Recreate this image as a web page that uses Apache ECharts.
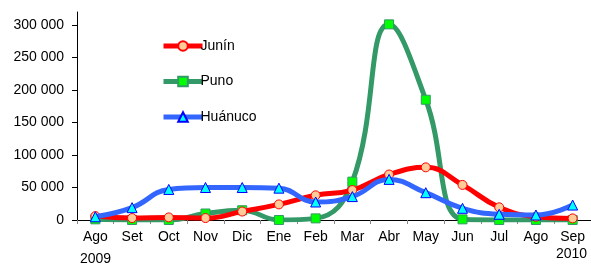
<!DOCTYPE html>
<html><head><meta charset="utf-8">
<script src="https://cdn.jsdelivr.net/npm/echarts@6/dist/echarts.min.js"></script>
<style>html,body{margin:0;padding:0;background:#fff}#c{width:591px;height:265px}</style>
</head><body><div id="c"></div>
<script>
const categories = ['Ago','Set','Oct','Nov','Dic','Ene','Feb','Mar','Abr','May','Jun','Jul','Ago','Sep'];
const junin = [6000, 3000, 4000, 3000, 13000, 24000, 38000, 46000, 70000, 81000, 54000, 19500, 5000, 2500];
const puno = [1000, 0, 0, 10000, 15000, 0, 2500, 59000, 301000, 185000, 1000, 0, 0, 0];
const huanuco = [5000, 19000, 47000, 50000, 50000, 49000, 27700, 36000, 62500, 42000, 18000, 8800, 7700, 23000];
const yTicks = [0, 50000, 100000, 150000, 200000, 250000, 300000];
const yearLabels = ['2009', '2010'];

const font = 'Liberation Sans, Arial, sans-serif';
const chart = echarts.init(document.getElementById('c'), null, {renderer: 'canvas'});
function fmt(v){ return String(v).replace(/\B(?=(\d{3})+(?!\d))/g, ' '); }
chart.setOption({
  animation: false,
  grid: {left: 77, right: -8, top: 12, bottom: 45, containLabel: false},
  legend: {
    orient: 'vertical', left: 156, top: 34, itemGap: 21.5,
    itemWidth: 39, itemHeight: 12,
    lineStyle: {width: 5},
    textStyle: {fontFamily: font, fontSize: 14, color: '#000', padding: [0,0,0,-7]},
    data: ['Junín', 'Puno', 'Huánuco']
  },
  xAxis: {
    type: 'category', data: categories, boundaryGap: true,
    axisLine: {lineStyle: {color: '#000', width: 1}},
    axisTick: {show: true, length: 4, lineStyle: {color: '#888'}},
    axisLabel: {color: '#000', fontFamily: font, fontSize: 14, margin: 10, interval: 0}
  },
  yAxis: {
    type: 'value', min: 0, max: 320000, interval: 50000,
    splitLine: {show: false},
    axisLine: {show: true, lineStyle: {color: '#000', width: 1}},
    axisTick: {show: true, length: 5, customValues: yTicks, lineStyle: {color: '#000'}},
    axisLabel: {color: '#000', fontFamily: font, fontSize: 14, margin: 13, customValues: yTicks, formatter: fmt}
  },
  graphic: [
    {type: 'text', left: 80, top: 252, style: {text: yearLabels[0], fontFamily: font, fontSize: 14, fill: '#000'}},
    {type: 'text', left: 556, top: 247, style: {text: yearLabels[1], fontFamily: font, fontSize: 14, fill: '#000'}}
  ],
  series: [
    {name: 'Junín', type: 'line', data: junin, smooth: 0.45, z: 3,
     lineStyle: {color: '#ff0000', width: 5}, symbol: 'circle', symbolSize: 9,
     itemStyle: {color: '#ffcc99', borderColor: '#ff0000', borderWidth: 1}},
    {name: 'Puno', type: 'line', data: puno, smooth: 0.45, z: 2,
     lineStyle: {color: '#339966', width: 5}, symbol: 'rect', symbolSize: 9,
     itemStyle: {color: '#00ff00', borderColor: '#339966', borderWidth: 1}},
    {name: 'Huánuco', type: 'line', data: huanuco, smooth: 0.45, z: 4,
     lineStyle: {color: '#3366ff', width: 5}, symbol: 'triangle', symbolSize: 10,
     itemStyle: {color: '#00ffff', borderColor: '#0000ff', borderWidth: 1}}
  ]
});
</script></body></html>
